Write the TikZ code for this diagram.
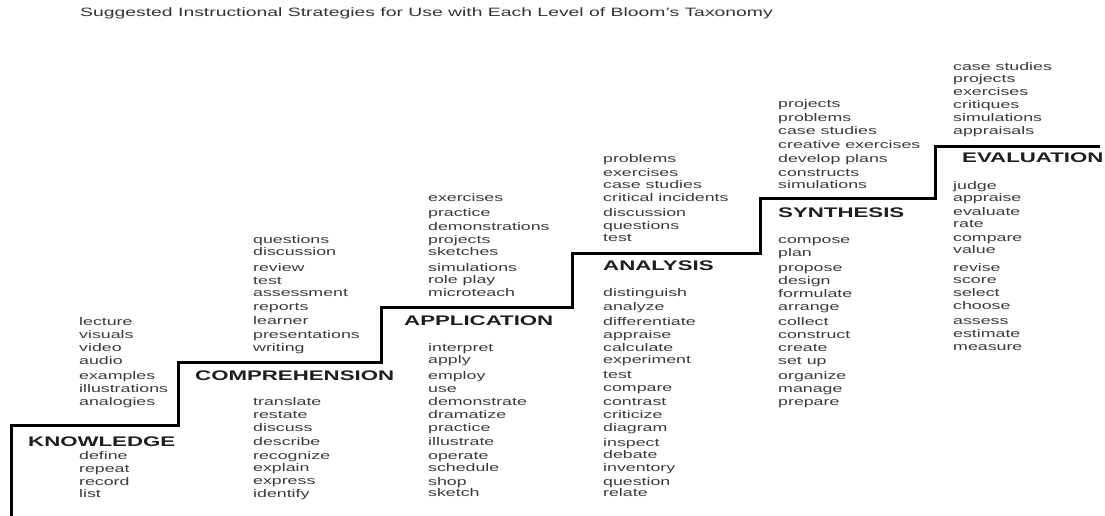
\documentclass[tikz,border=0pt]{standalone}
\usepackage{fontspec}
\setmainfont[FakeStretch=1.6]{Liberation Sans}
\definecolor{wordgray}{HTML}{3A3A3A}
\definecolor{headgray}{HTML}{1E1E1E}
\definecolor{titlegray}{HTML}{333333}
\begin{document}
\begin{tikzpicture}[x=1pt,y=-1pt,
  word/.style={anchor=west,inner sep=0pt,text=wordgray,font=\fontsize{11.1}{12}\selectfont,text height=8pt,text depth=2pt},
  head/.style={anchor=west,inner sep=0pt,text=headgray,font=\fontsize{13.9}{15}\selectfont\bfseries,text height=10pt,text depth=0pt},
  titletext/.style={anchor=west,inner sep=0pt,text=titlegray,font=\fontsize{12.1}{13}\selectfont,text height=8.5pt,text depth=2.5pt},
  stair/.style={line width=3pt,black,line join=miter}]
\useasboundingbox (0,0) rectangle (1105,516);

\node[titletext] (title) at (80,14) {Suggested Instructional Strategies for Use with Each Level of Bloom's Taxonomy};

% staircase
\coordinate (s0) at (11,516);
\coordinate (s1) at (11,425);
\coordinate (s2) at (178,425);
\coordinate (s3) at (178,362);
\coordinate (s4) at (381,362);
\coordinate (s5) at (381,307);
\coordinate (s6) at (572,307);
\coordinate (s7) at (572,253);
\coordinate (s8) at (760,253);
\coordinate (s9) at (760,198);
\coordinate (s10) at (935,198);
\coordinate (s11) at (935,146);
\coordinate (s12) at (1100,146);
\draw[stair] (s0) -- (s1) -- (s2) -- (s3) -- (s4) -- (s5) -- (s6) -- (s7) -- (s8) -- (s9) -- (s10) -- (s11) -- (s12);

% headings
\node[head] (knowledge) at (28,441) {KNOWLEDGE};
\node[head] (comprehension) at (195,375) {COMPREHENSION};
\node[head] (application) at (404,320) {APPLICATION};
\node[head] (analysis) at (603,265) {ANALYSIS};
\node[head] (synthesis) at (778,212) {SYNTHESIS};
\node[head] (evaluation) at (962,157) {EVALUATION};

% Knowledge
\foreach \w/\y [count=\i] in {lecture/322.5,visuals/335,video/348,audio/361,examples/376,illustrations/389,analogies/402}
  \node[word] (ku\i) at (79,\y) {\w};
\foreach \w/\y [count=\i] in {define/456,repeat/469,record/482,list/494}
  \node[word] (kl\i) at (79,\y) {\w};

% Comprehension
\foreach \w/\y [count=\i] in {questions/240,discussion/252.5,review/268,test/281,assessment/293.5,reports/307,learner/321,presentations/335,writing/348}
  \node[word] (cu\i) at (253,\y) {\w};
\foreach \w/\y [count=\i] in {translate/402.5,restate/415,discuss/428,describe/442.5,recognize/456,explain/468,express/481.5,identify/494}
  \node[word] (cl\i) at (253,\y) {\w};

% Application
\foreach \w/\y [count=\i] in {exercises/198,practice/213,demonstrations/227,projects/240,sketches/252,simulations/268,role play/280,microteach/293}
  \node[word] (au\i) at (428,\y) {\w};
\foreach \w/\y [count=\i] in {interpret/348,apply/360,employ/376,use/389,demonstrate/402,dramatize/415,practice/428,illustrate/442,operate/456,schedule/468,shop/482,sketch/493.5}
  \node[word] (al\i) at (428,\y) {\w};

% Analysis
\foreach \w/\y [count=\i] in {problems/159,exercises/173,case studies/185,critical incidents/198,discussion/213,questions/226,test/238}
  \node[word] (nu\i) at (603,\y) {\w};
\foreach \w/\y [count=\i] in {distinguish/293,analyze/307,differentiate/322,appraise/335,calculate/348,experiment/360,test/375,compare/388,contrast/402,criticize/415,diagram/428,inspect/443,debate/455,inventory/468,question/482,relate/493.5}
  \node[word] (nl\i) at (603,\y) {\w};

% Synthesis
\foreach \w/\y [count=\i] in {projects/105,problems/119,case studies/132,creative exercises/145,develop plans/159,constructs/173,simulations/185}
  \node[word] (su\i) at (778,\y) {\w};
\foreach \w/\y [count=\i] in {compose/240,plan/253,propose/268,design/281,formulate/294,arrange/307,collect/322,construct/335,create/348,set up/361,organize/376,manage/389,prepare/402.5}
  \node[word] (sl\i) at (778,\y) {\w};

% Evaluation
\foreach \w/\y [count=\i] in {case studies/68,projects/80,exercises/93,critiques/106,simulations/119,appraisals/132}
  \node[word] (eu\i) at (953,\y) {\w};
\foreach \w/\y [count=\i] in {judge/186,appraise/198,evaluate/212,rate/224,compare/238,value/250,revise/268,score/280,select/293,choose/306,assess/321,estimate/334,measure/347}
  \node[word] (el\i) at (953,\y) {\w};
\end{tikzpicture}
\end{document}
